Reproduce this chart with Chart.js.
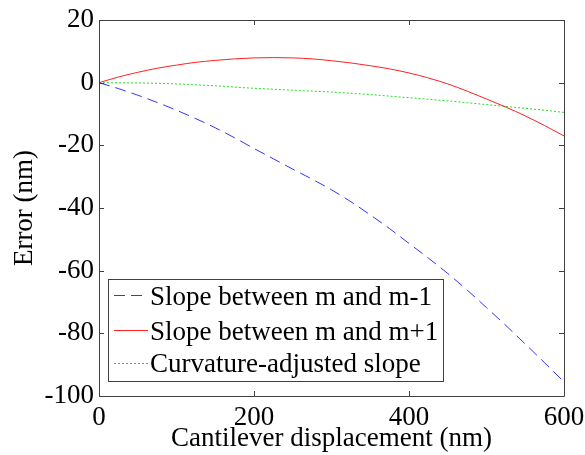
<!DOCTYPE html>
<html>
<head>
<meta charset="utf-8">
<script src="https://cdn.jsdelivr.net/npm/chart.js@4/dist/chart.umd.min.js"></script>
<style>
html,body{margin:0;padding:0;background:#fff;}
#wrap{width:585px;height:455px;position:relative;}
</style>
</head>
<body>
<div id="wrap"><canvas id="c" width="585" height="455"></canvas></div>
<script>
const xValues = [0, 25, 50, 75, 100, 125, 150, 175, 200, 225, 250, 275, 300, 325, 350, 375, 400, 425, 450, 475, 500, 525, 550, 575, 600];
const slopeMinus = [0, -1.9, -4.0, -6.3, -8.8, -11.5, -14.4, -17.6, -21.0, -24.3, -27.6, -30.8, -34.2, -38.0, -42.2, -46.6, -51.3, -56.0, -60.9, -66.2, -71.8, -77.5, -83.4, -89.4, -95.5];
const slopePlus = [0, 1.8, 3.3, 4.6, 5.6, 6.5, 7.1, 7.6, 7.9, 8.0, 7.9, 7.6, 7.0, 6.3, 5.4, 4.4, 3.1, 1.5, -0.4, -2.7, -5.2, -7.8, -10.6, -13.7, -17.0];
const curvature = [0, -0.05, -0.1, -0.2, -0.4, -0.7, -1.0, -1.4, -1.8, -2.1, -2.4, -2.7, -3.0, -3.4, -3.8, -4.3, -4.8, -5.3, -5.8, -6.4, -7.0, -7.6, -8.2, -8.8, -9.5];
const seriesLabels = ["Slope between m and m-1", "Slope between m and m+1", "Curvature-adjusted slope"];
const xTicks = [0, 200, 400, 600];
const yTicks = [-100, -80, -60, -40, -20, 0, 20];
const xTitle = "Cantilever displacement (nm)";
const yTitle = "Error (nm)";

const FONT = "'Liberation Serif', 'Times New Roman', serif";
const tickFont = {family: FONT, size: 27};

const toPts = arr => arr.map((v, i) => ({x: xValues[i], y: v}));

const frame = {
  id: 'frame',
  afterDraw(chart) {
    const ctx = chart.ctx, a = chart.chartArea;
    const xs = chart.scales.x, ys = chart.scales.y;
    ctx.save();
    ctx.strokeStyle = '#404040';
    ctx.lineWidth = 1;
    ctx.beginPath();
    ctx.rect(Math.round(a.left) + 0.5, Math.round(a.top) + 0.5, Math.round(a.right - a.left), Math.round(a.bottom - a.top));
    const L = 5;
    xTicks.forEach(t => {
      const px = Math.round(xs.getPixelForValue(t)) + 0.5;
      ctx.moveTo(px, a.bottom); ctx.lineTo(px, a.bottom - L);
      ctx.moveTo(px, a.top); ctx.lineTo(px, a.top + L);
    });
    yTicks.forEach(t => {
      const py = Math.round(ys.getPixelForValue(t)) + 0.5;
      ctx.moveTo(a.left, py); ctx.lineTo(a.left + L, py);
      ctx.moveTo(a.right, py); ctx.lineTo(a.right - L, py);
    });
    ctx.stroke();

    // legend
    const lx = 108.5, ly = 279.5, lw = 335, lh = 102;
    ctx.fillStyle = '#fff';
    ctx.fillRect(lx, ly, lw, lh);
    ctx.strokeStyle = '#404040';
    ctx.strokeRect(lx, ly, lw, lh);
    const rows = [295, 330, 363];
    const bases = [305, 340, 372];
    chart.data.datasets.forEach((ds, i) => {
      const y = rows[i] + 0.5;
      ctx.beginPath();
      ctx.strokeStyle = ds.borderColor;
      ctx.lineWidth = ds.borderWidth;
      ctx.setLineDash(ds.borderDash || []);
      ctx.moveTo(114, y); ctx.lineTo(148, y);
      ctx.stroke();
      ctx.setLineDash([]);
      ctx.fillStyle = '#000';
      ctx.font = "27px " + FONT;
      ctx.textBaseline = 'alphabetic';
      ctx.textAlign = 'left';
      ctx.fillText(seriesLabels[i], 150, bases[i]);
    });
    ctx.restore();
  }
};

new Chart(document.getElementById('c'), {
  type: 'line',
  data: {
    datasets: [
      {label: seriesLabels[0], data: toPts(slopeMinus), borderColor: '#3333ff', borderWidth: 1, borderDash: [11, 6], pointRadius: 0, fill: false, cubicInterpolationMode: 'monotone'},
      {label: seriesLabels[1], data: toPts(slopePlus), borderColor: '#ff2020', borderWidth: 1, pointRadius: 0, fill: false, cubicInterpolationMode: 'monotone'},
      {label: seriesLabels[2], data: toPts(curvature), borderColor: '#22dd22', borderWidth: 1, borderDash: [2, 2], pointRadius: 0, fill: false, cubicInterpolationMode: 'monotone'}
    ]
  },
  options: {
    responsive: false,
    animation: false,
    layout: {padding: {top: 20, right: 21, left: 0, bottom: 0}},
    plugins: {legend: {display: false}, tooltip: {enabled: false}},
    scales: {
      x: {
        type: 'linear', min: 0, max: 600,
        afterFit(s) { s.height = 59; s.paddingLeft = 0; s.paddingRight = 0; },
        afterBuildTicks(s) { s.ticks = xTicks.map(v => ({value: v})); },
        grid: {display: false, drawTicks: false},
        border: {display: false},
        ticks: {font: tickFont, color: '#000', padding: 6, maxRotation: 0},
        title: {display: true, text: xTitle, font: tickFont, color: '#000', padding: {top: -5, bottom: 0}}
      },
      y: {
        type: 'linear', min: -100, max: 20,
        afterFit(s) { s.width = 99; s.paddingTop = 0; s.paddingBottom = 0; },
        afterBuildTicks(s) { s.ticks = yTicks.map(v => ({value: v})); },
        grid: {display: false, drawTicks: false},
        border: {display: false},
        ticks: {font: tickFont, color: '#000', padding: 5},
        title: {display: true, text: yTitle, font: tickFont, color: '#000', padding: {top: 9, bottom: 0}}
      }
    }
  },
  plugins: [frame]
});
</script>
</body>
</html>
